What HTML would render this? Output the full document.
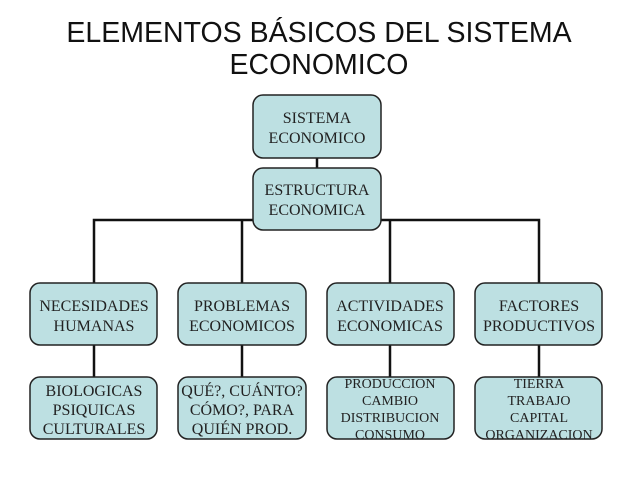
<!DOCTYPE html>
<html><head><meta charset="utf-8"><style>
body{margin:0;background:#fff;width:638px;height:479px;overflow:hidden}
svg text{font-family:"Liberation Serif",serif;font-size:16px;fill:#222;text-anchor:middle}
svg text.t{font-family:"Liberation Sans",sans-serif;font-size:28.5px;fill:#111}
</style></head><body>
<svg width="638" height="479" xmlns="http://www.w3.org/2000/svg">
<text class="t" x="319" y="42">ELEMENTOS BÁSICOS DEL SISTEMA</text>
<text class="t" x="319" y="74">ECONOMICO</text>
<g stroke="#111" stroke-width="2.5" fill="none">
<line x1="317" y1="158" x2="317" y2="168"/>
<polyline points="94,283 94,220 539,220 539,283"/>
<line x1="242" y1="220" x2="242" y2="283"/>
<line x1="390" y1="220" x2="390" y2="283"/>
<line x1="94" y1="345" x2="94" y2="377"/>
<line x1="242" y1="345" x2="242" y2="377"/>
<line x1="390" y1="345" x2="390" y2="377"/>
<line x1="539" y1="345" x2="539" y2="377"/>
</g>
<g fill="#bde0e2" stroke="#222" stroke-width="1.5">
<rect x="253" y="95" width="128" height="63" rx="10"/>
<rect x="253" y="168" width="128" height="62" rx="10"/>
<rect x="30" y="283" width="127" height="62" rx="10"/>
<rect x="178" y="283" width="128" height="62" rx="10"/>
<rect x="327" y="283" width="127" height="62" rx="10"/>
<rect x="475" y="283" width="127" height="62" rx="10"/>
<rect x="30" y="377" width="127" height="62" rx="10"/>
<rect x="178" y="377" width="128" height="62" rx="10"/>
<rect x="327" y="377" width="127" height="62" rx="10"/>
<rect x="475" y="377" width="127" height="62" rx="10"/>
</g>
<text x="317" y="123">SISTEMA</text><text x="317" y="143">ECONOMICO</text>
<text x="317" y="195">ESTRUCTURA</text><text x="317" y="215">ECONOMICA</text>
<text x="94" y="311">NECESIDADES</text><text x="94" y="331">HUMANAS</text>
<text x="242" y="311">PROBLEMAS</text><text x="242" y="331">ECONOMICOS</text>
<text x="390" y="311">ACTIVIDADES</text><text x="390" y="331">ECONOMICAS</text>
<text x="539" y="311">FACTORES</text><text x="539" y="331">PRODUCTIVOS</text>
<text x="94" y="396">BIOLOGICAS</text><text x="94" y="415">PSIQUICAS</text><text x="94" y="434">CULTURALES</text>
<text x="242" y="396">QUÉ?, CUÁNTO?</text><text x="242" y="415">CÓMO?, PARA</text><text x="242" y="434">QUIÉN PROD.</text>
<text x="390" y="388" style="font-size:14px">PRODUCCION</text><text x="390" y="405" style="font-size:14px">CAMBIO</text><text x="390" y="422" style="font-size:14px">DISTRIBUCION</text><text x="390" y="439" style="font-size:14px">CONSUMO</text>
<text x="539" y="388" style="font-size:14px">TIERRA</text><text x="539" y="405" style="font-size:14px">TRABAJO</text><text x="539" y="422" style="font-size:14px">CAPITAL</text><text x="539" y="439" style="font-size:14px">ORGANIZACION</text>
</svg>
</body></html>
